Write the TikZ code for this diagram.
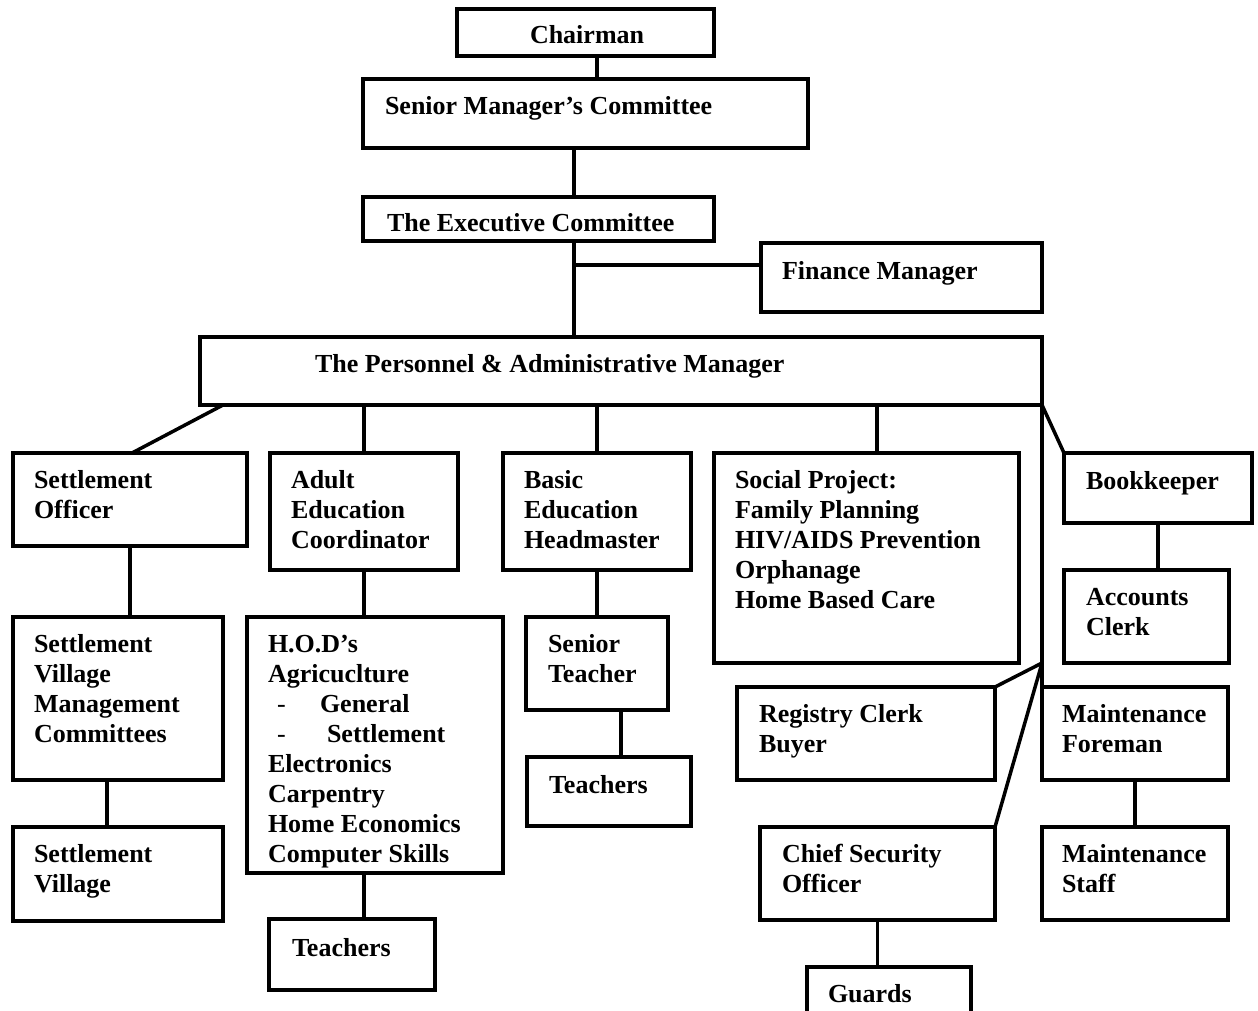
\documentclass[tikz,border=0pt]{standalone}
\usepackage{fontspec}
\setmainfont{Liberation Serif}
\usetikzlibrary{calc}
\newcommand{\orgfont}{\fontsize{26}{30}\selectfont\bfseries}
\newcommand{\fs}{\rule{0pt}{21pt}}
\newcommand{\orgbox}[5]{\node[box, minimum width=#4pt, minimum height=#5pt] (#1) at (#2,#3) {};}
\newcommand{\orgtext}[4]{\node[txt] (#1) at (#2,#3-21) {\fs #4};}
\begin{document}
\begin{tikzpicture}[x=1pt,y=-1pt,
  box/.style={draw, line width=3.5pt, anchor=north west, inner sep=0pt, outer sep=0pt},
  txt/.style={anchor=north west, inner sep=0pt, outer sep=0pt, align=left, font=\orgfont},
  conn/.style={line width=3.5pt}]
\useasboundingbox (0,0) rectangle (1258,1011);
\fill[white] (0,0) rectangle (1258,1011);
% boxes: name, x, y, width, height
\orgbox{chair}{457}{9}{257}{47}
\orgbox{smc}{363}{79}{445}{69}
\orgbox{exec}{363}{197}{351}{44}
\orgbox{fin}{761}{243}{281}{69}
\orgbox{pam}{200}{337}{842}{68}
\orgbox{so}{13}{453}{234}{93}
\orgbox{aec}{270}{453}{188}{117}
\orgbox{beh}{503}{453}{188}{117}
\orgbox{sp}{714}{453}{305}{210}
\orgbox{bk}{1064}{453}{188}{70}
\orgbox{ac}{1064}{570}{165}{93}
\orgbox{svmc}{13}{617}{210}{163}
\orgbox{sv}{13}{827}{210}{94}
\orgbox{hod}{247}{617}{256}{256}
\orgbox{tcha}{269}{919}{166}{71}
\orgbox{st}{526}{617}{142}{93}
\orgbox{tchb}{527}{757}{164}{69}
\orgbox{rc}{737}{687}{258}{93}
\orgbox{cso}{760}{827}{235}{93}
\orgbox{gd}{807}{967}{164}{73}
\orgbox{mf}{1042}{687}{186}{93}
\orgbox{ms}{1042}{827}{186}{93}
% texts
\orgtext{chair-t}{530}{44}{Chairman}
\orgtext{smc-t}{385}{115}{Senior Manager’s Committee}
\orgtext{exec-t}{387}{231}{The Executive Committee}
\orgtext{fin-t}{782}{279}{Finance Manager}
\orgtext{pam-t}{315}{372}{The Personnel \& Administrative Manager}
\orgtext{so-t}{34}{488}{Settlement\\Officer}
\orgtext{aec-t}{291}{488}{Adult\\Education\\Coordinator}
\orgtext{beh-t}{524}{488}{Basic\\Education\\Headmaster}
\orgtext{sp-t}{735}{488}{Social Project:\\Family Planning\\HIV/AIDS Prevention\\Orphanage\\Home Based Care}
\orgtext{bk-t}{1086}{489}{Bookkeeper}
\orgtext{ac-t}{1086}{605}{Accounts\\Clerk}
\orgtext{svmc-t}{34}{652}{Settlement\\Village\\Management\\Committees}
\orgtext{sv-t}{34}{862}{Settlement\\Village}
\orgtext{hod-t}{268}{652}{H.O.D’s\\Agricuclture\\\makebox[52pt][l]{\hspace*{9pt}\mdseries -}General\\\makebox[59pt][l]{\hspace*{9pt}\mdseries -}Settlement\\Electronics\\Carpentry\\Home Economics\\Computer Skills}
\orgtext{st-t}{548}{652}{Senior\\Teacher}
\orgtext{tchb-t}{549}{793}{Teachers}
\orgtext{tcha-t}{292}{956}{Teachers}
\orgtext{rc-t}{759}{722}{Registry Clerk\\Buyer}
\orgtext{mf-t}{1062}{722}{Maintenance\\Foreman}
\orgtext{cso-t}{782}{862}{Chief Security\\Officer}
\orgtext{ms-t}{1062}{862}{Maintenance\\Staff}
\orgtext{gd-t}{828}{1002}{Guards}
% connectors
\draw[conn] ([xshift=11.5pt]chair.south) -- ([xshift=11.5pt]smc.north);
\draw[conn] ([xshift=-11.5pt]smc.south) -- ([xshift=35.5pt]exec.north);
\draw[conn] ([xshift=35.5pt]exec.south) -- ([xshift=-47pt]pam.north);
\coordinate (j1) at (574,265);
\draw[conn] (j1) -- ([yshift=12.5pt]fin.west);
\draw[conn] ([xshift=23pt]pam.south west) -- ([xshift=2pt]so.north);
\draw[conn] (aec.north |- pam.south) -- (aec.north);
\draw[conn] (beh.north |- pam.south) -- (beh.north);
\coordinate (spt) at ([xshift=10.5pt]sp.north);
\draw[conn] (spt |- pam.south) -- (spt);
\draw[conn] (pam.south east) -- (bk.north west);
\draw[conn] (pam.south east) -- (mf.north west);
\coordinate (j2) at (1042,663);
\draw[conn] (j2) -- (rc.north east);
\draw[conn] (j2) -- (cso.north east);
\draw[conn] (so.south) -- (so.south |- svmc.north);
\draw[conn] ([xshift=-11pt]svmc.south) -- ([xshift=-11pt]sv.north);
\draw[conn] (aec.south) -- (aec.south |- hod.north);
\draw[conn] ([xshift=-11pt]hod.south) -- ([xshift=12pt]tcha.north);
\draw[conn] (beh.south) -- (beh.south |- st.north);
\draw[conn] ([xshift=24pt]st.south) -- ([xshift=12pt]tchb.north);
\draw[conn] (bk.south) -- (bk.south |- ac.north);
\draw[conn] (mf.south) -- (ms.north);
\draw[conn] (cso.south) -- (cso.south |- gd.north);
\end{tikzpicture}
\end{document}
